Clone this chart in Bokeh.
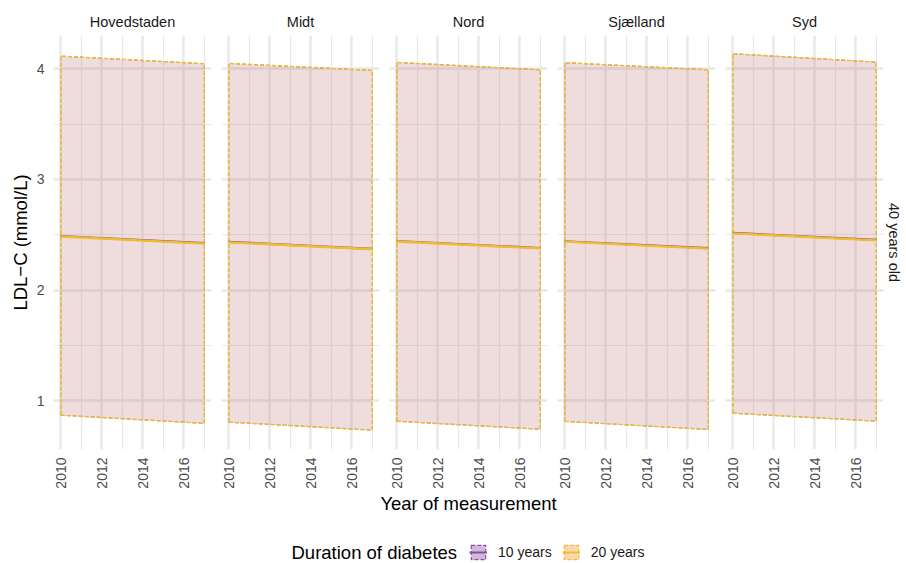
import math

from bokeh.embed import file_html
from bokeh.layouts import column, row
from bokeh.models import (FixedTicker, Grid, Label, Legend, LegendItem,
                          LinearAxis, Range1d, Title)
from bokeh.plotting import figure
from bokeh.resources import INLINE

FONT = "Liberation Sans"

# ---- data ---------------------------------------------------------------
regions = ["Hovedstaden", "Midt", "Nord", "Sjælland", "Syd"]
years = [2010, 2017]
durations = ["10 years", "20 years"]

# predicted LDL-C (mmol/L) for a 40-year-old, at 2010 and 2017
mean_10 = [[2.489, 2.424], [2.436, 2.373], [2.444, 2.381], [2.442, 2.379], [2.517, 2.454]]
lower_10 = [[0.871, 0.797], [0.808, 0.736], [0.816, 0.744], [0.815, 0.742], [0.889, 0.817]]
upper_10 = [[4.114, 4.045], [4.048, 3.985], [4.057, 3.990], [4.055, 3.990], [4.135, 4.060]]

mean_20 = [[2.485, 2.420], [2.432, 2.369], [2.440, 2.377], [2.438, 2.375], [2.513, 2.450]]
lower_20 = [[0.871, 0.797], [0.808, 0.736], [0.816, 0.744], [0.815, 0.742], [0.889, 0.817]]
upper_20 = [[4.114, 4.045], [4.048, 3.985], [4.057, 3.990], [4.055, 3.990], [4.135, 4.060]]

x_ticks = [2010, 2012, 2014, 2016]
x_minor = [2011, 2013, 2015, 2017]
y_ticks = [1, 2, 3, 4]
y_minor = [1.5, 2.5, 3.5]

# ---- style --------------------------------------------------------------
C10 = "#8A4FA0"
C20_LINE = "#EFBF2A"
C20_FILL = "#F6A55A"
GRID = "#E8E8E8"

FRAME_W = 158
GAP = 10
LEFT = 53
RIGHT = 23
FIG_H = 491


def make_panel(i):
    first = i == 0
    last = i == len(regions) - 1
    border_left = LEFT if first else GAP
    border_right = RIGHT if last else 0
    p = figure(
        width=border_left + FRAME_W + border_right, height=FIG_H,
        x_range=Range1d(2009.65, 2017.35), y_range=Range1d(0.561, 4.30),
        x_axis_location=None, y_axis_location=None,
        output_backend="svg", toolbar_location=None,
        min_border_left=border_left, min_border_right=border_right,
        min_border_top=35, min_border_bottom=42,
        outline_line_color=None, border_fill_color="white",
        background_fill_color="white", title=regions[i],
    )
    p.grid.visible = False
    p.title.align = "center"
    p.title.text_font = FONT
    p.title.text_font_size = "14.5px"
    p.title.text_font_style = "normal"
    p.title.text_color = "#1A1A1A"
    p.title.standoff = 12

    xt = FixedTicker(ticks=x_ticks, minor_ticks=x_minor)
    yt = FixedTicker(ticks=y_ticks, minor_ticks=y_minor)
    for dim, tk in ((0, xt), (1, yt)):
        p.add_layout(Grid(dimension=dim, ticker=tk,
                          grid_line_color=GRID, grid_line_width=2.4,
                          minor_grid_line_color=GRID, minor_grid_line_width=1.2))

    xaxis = LinearAxis(
        ticker=xt, major_label_orientation=math.pi / 2,
        axis_line_color=None, major_tick_line_color=None,
        minor_tick_line_color=None, major_tick_out=0, major_tick_in=0,
        minor_tick_out=0, minor_tick_in=0, major_label_standoff=8,
        major_label_text_font=FONT, major_label_text_font_size="14px",
        major_label_text_color="#4D4D4D",
    )
    p.add_layout(xaxis, "below")

    if first:
        yaxis = LinearAxis(
            ticker=yt, axis_label="LDL\u2212C (mmol/L)",
            axis_line_color=None, major_tick_line_color=None,
            minor_tick_line_color=None, major_tick_out=0, major_tick_in=0,
            minor_tick_out=0, minor_tick_in=0, major_label_standoff=9,
            major_label_text_font=FONT, major_label_text_font_size="14px",
            major_label_text_color="#4D4D4D",
            axis_label_text_font=FONT, axis_label_text_font_size="18.5px",
            axis_label_text_font_style="normal", axis_label_text_color="black",
            axis_label_standoff=3,
        )
        p.add_layout(yaxis, "left")

    if last:
        p.add_layout(Title(text="40 years old", align="center",
                           text_font=FONT, text_font_size="14.5px",
                           text_font_style="normal", text_color="#1A1A1A",
                           standoff=4), "right")

    # ribbons (full dashed outline), then fitted lines
    poly_x = years + years[::-1]
    p.patch(poly_x, lower_10[i] + upper_10[i][::-1], fill_color=C10, fill_alpha=0.15,
            line_color=C10, line_dash="4 2", line_width=0.9)
    p.patch(poly_x, lower_20[i] + upper_20[i][::-1], fill_color=C20_FILL, fill_alpha=0.12,
            line_color=C20_LINE, line_dash="4 2", line_width=1.4)
    p.line(years, mean_10[i], line_color=C10, line_width=2.2)
    p.line(years, mean_20[i], line_color=C20_LINE, line_width=2.4)
    return p


panels = [make_panel(i) for i in range(len(regions))]

# ---- shared x title and legend ------------------------------------------
foot = figure(width=906, height=72, x_range=Range1d(0, 906), y_range=Range1d(0, 72),
              x_axis_location=None, y_axis_location=None,
              output_backend="svg", toolbar_location=None, min_border=0,
              outline_line_color=None, border_fill_color="white")
foot.grid.visible = False
foot.add_layout(Label(x=468, y=60, text="Year of measurement", text_align="center",
                      text_baseline="middle", text_font=FONT,
                      text_font_size="18.5px", text_color="black"))
foot.add_layout(Label(x=291, y=11, text="Duration of diabetes", text_align="left",
                      text_baseline="middle", text_font=FONT,
                      text_font_size="18.5px", text_color="black"))

# legend keys: the Hovedstaden series, which fall outside this strip's ranges
kx = years + years[::-1]
k10a = foot.patch(kx, lower_10[0] + upper_10[0][::-1], fill_color=C10, fill_alpha=0.4,
                  line_color=C10, line_dash="4 2", line_width=1.2)
k10l = foot.line(years, mean_10[0], line_color=C10, line_width=2)
k20a = foot.patch(kx, lower_20[0] + upper_20[0][::-1], fill_color=C20_FILL, fill_alpha=0.45,
                  line_color=C20_LINE, line_dash="4 2", line_width=1.2)
k20l = foot.line(years, mean_20[0], line_color=C20_LINE, line_width=2)

legend = Legend(
    items=[LegendItem(label=durations[0], renderers=[k10a, k10l]),
           LegendItem(label=durations[1], renderers=[k20a, k20l])],
    orientation="horizontal", location=(469, 2), padding=0, margin=0,
    spacing=10, glyph_width=18, glyph_height=18, label_height=18,
    label_standoff=11, label_text_font=FONT, label_text_font_size="14px",
    label_text_color="#1A1A1A", border_line_color=None,
    background_fill_alpha=0,
)
foot.add_layout(legend)

layout = column(row(*panels), foot)

open("out.html", "w").write(file_html(layout, INLINE))
